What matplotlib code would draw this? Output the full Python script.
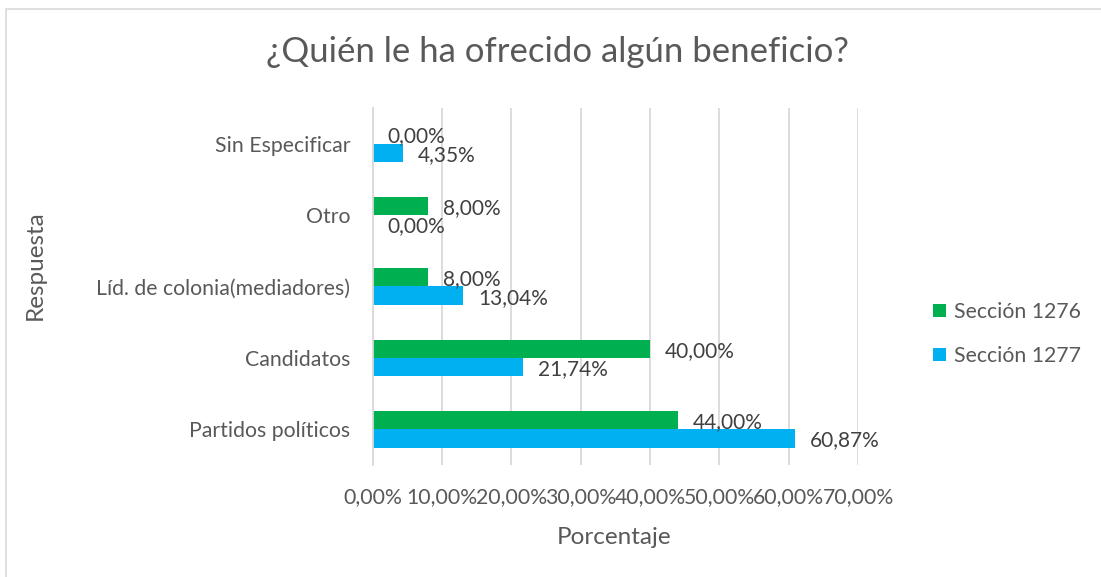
import matplotlib
matplotlib.use("Agg")
import matplotlib.pyplot as plt
from matplotlib.patches import Rectangle
import numpy as np

plt.rcParams['font.family'] = ['Lato', 'DejaVu Sans']

categories = ["Partidos políticos", "Candidatos", "Líd. de colonia(mediadores)", "Otro", "Sin Especificar"]
sec_1276 = [44.00, 40.00, 8.00, 8.00, 0.00]
sec_1277 = [60.87, 21.74, 13.04, 0.00, 4.35]
xticks = [0, 10, 20, 30, 40, 50, 60, 70]

green = "#00B050"
blue = "#00B0F0"
txt = "#595959"
grid = "#D9D9D9"

fig = plt.figure(figsize=(11.01, 5.77), dpi=100)
fig.patches.append(Rectangle((6 / 1101, -0.1), 1.2, (577 - 9) / 577 + 0.1,
                             transform=fig.transFigure, fill=False,
                             edgecolor=grid, linewidth=1.2))
ax = fig.add_axes([372.7 / 1101, 1 - 465 / 577, (858 - 372.7) / 1101, (465 - 108) / 577])

y = np.arange(len(categories))
h = 0.257
b1 = ax.barh(y + h / 2, sec_1276, height=h, color=green, label="Sección 1276")
b2 = ax.barh(y - h / 2, sec_1277, height=h, color=blue, label="Sección 1277")

for bars, vals in ((b1, sec_1276), (b2, sec_1277)):
    for bar, v in zip(bars, vals):
        ax.annotate(f"{v:.2f}%".replace(".", ","),
                    (bar.get_width(), bar.get_y() + bar.get_height() / 2),
                    xytext=(15, -2), textcoords="offset pixels",
                    ha="left", va="center", fontsize=15, color="#404040")

ax.set_xlim(0, 70)
ax.set_ylim(-0.5, len(categories) - 0.5)
ax.set_xticks(xticks)
ax.set_xticklabels([f"{t:.2f}%".replace(".", ",") for t in xticks])
ax.set_yticks(y)
ax.set_yticklabels(categories)
ax.tick_params(axis="both", length=0, labelsize=15.3, labelcolor=txt)
ax.tick_params(axis="x", pad=16)
ax.tick_params(axis="y", pad=16)
ax.xaxis.grid(True, color=grid, linewidth=1.3)
ax.set_axisbelow(True)
for s in ("top", "right", "bottom"):
    ax.spines[s].set_visible(False)
ax.spines["left"].set_color(grid)
ax.spines["left"].set_linewidth(1.3)

fig.text(614 / 1101, 1 - 537 / 577, "Porcentaje", ha="center", va="center",
         fontsize=17.5, color=txt)
fig.text(35 / 1101, 1 - 265 / 577, "Respuesta", rotation=90, ha="center", va="center",
         fontsize=17.5, color=txt)
fig.text(557 / 1101, 1 - 52 / 577, "¿Quién le ha ofrecido algún beneficio?",
         ha="center", va="center", fontsize=25, color=txt)

handles = [b1, b2]
fig.legend(handles, [b.get_label() for b in handles], loc="center left",
           bbox_to_anchor=(914 / 1101, 1 - 334 / 577), frameon=False,
           fontsize=15.3, labelcolor=txt, handlelength=0.6, handleheight=0.6,
           handletextpad=0.4, labelspacing=1.15)

fig.savefig("out.png", dpi=100)
